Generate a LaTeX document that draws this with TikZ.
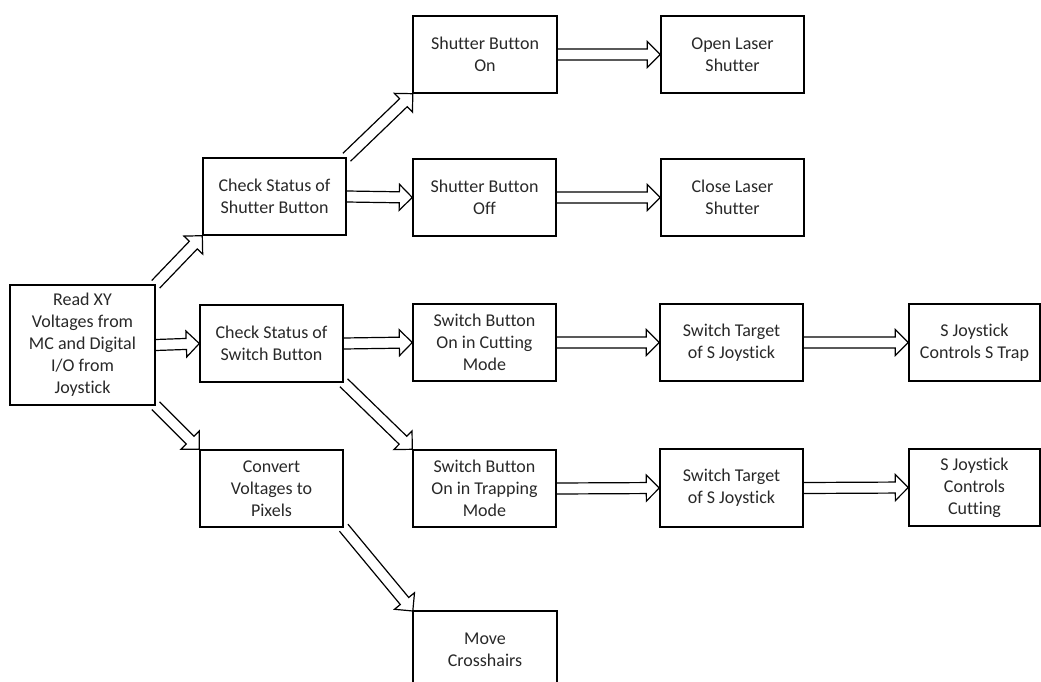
\documentclass[tikz,border=0pt]{standalone}
\usepackage{fontspec}
\setmainfont{Carlito}[Ligatures=NoCommon]
\usetikzlibrary{calc}
\definecolor{txt}{RGB}{40,40,40}
\newcommand{\harrow}[2]{%
  \path ($(#2)!13pt!(#1)$) coordinate (hb);
  \draw[harr] ($(#1)!5.5pt!90:(#2)$) -- ($(hb)!5.5pt!90:(#2)$) -- ($(hb)!13pt!90:(#2)$) -- (#2)
     -- ($(hb)!13pt!-90:(#2)$) -- ($(hb)!5.5pt!-90:(#2)$) -- ($(#1)!5.5pt!-90:(#2)$);}
\begin{document}
\begin{tikzpicture}[x=1pt,y=-1pt,
  box/.style={draw, line width=1.4pt, minimum width=143pt, minimum height=77pt, align=center,
    font=\fontsize{18}{22}\selectfont, text=txt, inner sep=0pt},
  harr/.style={line width=1.2pt, line join=miter, fill=white}]
\useasboundingbox (0,0) rectangle (1041,682);
\clip (0,0) rectangle (1041,682);
% node positions
\path
  (82.5,345) node[box, minimum width=145pt, minimum height=120pt] (read) {Read XY\\Voltages from\\MC and Digital\\I/O from\\Joystick}
  (274.5,196.5) node[box] (cshut) {Check Status of\\Shutter Button}
  (271.5,343.5) node[box] (cswitch) {Check Status of\\Switch Button}
  (271.5,488.5) node[box] (convert) {Convert\\Voltages to\\Pixels}
  (485,54.5) node[box] (shon) {Shutter Button\\On}
  (484.5,197.5) node[box] (shoff) {Shutter Button\\Off}
  (484.5,342.5) node[box] (swcut) {Switch Button\\On in Cutting\\Mode}
  (484.5,488.5) node[box] (swtrap) {Switch Button\\On in Trapping\\Mode}
  (485,611) node[box, anchor=north, text height=62pt, text depth=0pt] (move) {}
  (732.5,54.5) node[box] (open) {Open Laser\\Shutter}
  (732.5,197.5) node[box] (close) {Close Laser\\Shutter}
  (731.5,342.5) node[box] (tgt1) {Switch Target\\of S Joystick}
  (731.5,488) node[box] (tgt2) {Switch Target\\of S Joystick}
  (974.5,342.5) node[box, minimum width=131pt] (strap) {S Joystick\\Controls S Trap}
  (974.5,487.5) node[box, minimum width=131pt] (scut) {S Joystick\\Controls\\Cutting};
\node[font=\fontsize{18}{22}\selectfont, text=txt, align=center, inner sep=0pt] (movetxt) at (485,650) {Move\\Crosshairs};
% connectors
\harrow{read.east}{cswitch.west}
\harrow{cshut.east}{shoff.west}
\harrow{cswitch.east}{swcut.west}
\harrow{shon.east}{open.west}
\harrow{shoff.east}{close.west}
\harrow{swcut.east}{tgt1.west}
\harrow{swtrap.east}{tgt2.west}
\harrow{tgt1.east}{strap.west}
\harrow{tgt2.east}{scut.west}
\harrow{read.north east}{cshut.south west}
\harrow{read.south east}{convert.north west}
\harrow{cshut.north east}{shon.south west}
\harrow{cswitch.south east}{swtrap.north west}
\harrow{convert.south east}{move.north west}
% redraw box borders above arrows
\foreach \n in {read,cshut,cswitch,convert,shon,shoff,swcut,swtrap,move,open,close,tgt1,tgt2,strap,scut}
  \draw[line width=1.4pt] (\n.north west) rectangle (\n.south east);
\end{tikzpicture}
\end{document}
